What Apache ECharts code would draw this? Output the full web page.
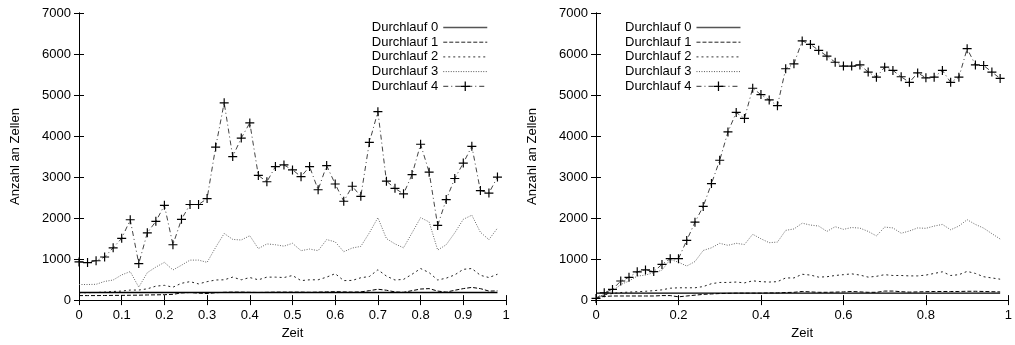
<!DOCTYPE html>
<html>
<head>
<meta charset="utf-8">
<script src="https://cdn.jsdelivr.net/npm/echarts@6/dist/echarts.min.js"></script>
<style>
html,body{margin:0;padding:0;background:#fff;}
#c{width:1015px;height:345px;}
</style>
</head>
<body>
<div id="c"></div>
<script>
const times = [0,0.02,0.04,0.06,0.08,0.1,0.12,0.14,0.16,0.18,0.2,0.22,0.24,0.26,0.28,0.3,0.32,0.34,0.36,0.38,0.4,0.42,0.44,0.46,0.48,0.5,0.52,0.54,0.56,0.58,0.6,0.62,0.64,0.66,0.68,0.7,0.72,0.74,0.76,0.78,0.8,0.82,0.84,0.86,0.88,0.9,0.92,0.94,0.96,0.98];
const seriesNames = ['Durchlauf 0','Durchlauf 1','Durchlauf 2','Durchlauf 3','Durchlauf 4'];
const yTicks = [0,1000,2000,3000,4000,5000,6000,7000];
const leftXTicks = [0,0.1,0.2,0.3,0.4,0.5,0.6,0.7,0.8,0.9,1];
const rightXTicks = [0,0.2,0.4,0.6,0.8,1];

// Left panel
const L0 = [185,185,185,185,185,185,185,185,185,185,185,185,185,185,185,185,185,185,185,185,185,185,185,185,185,185,185,185,185,185,185,185,185,185,185,185,185,185,185,185,185,185,185,185,185,185,185,185,185,185];
const L1 = [110,110,110,112,115,115,118,120,125,128,132,140,175,185,170,160,180,190,195,195,190,185,190,195,195,195,195,190,195,200,205,200,195,200,230,265,240,200,190,230,270,280,220,195,240,280,310,280,220,225];
const L2 = [180,180,185,195,210,220,245,245,275,340,360,315,410,450,395,450,490,495,560,495,550,495,560,560,550,600,475,495,495,560,645,475,480,545,575,740,585,490,505,630,770,670,490,535,615,750,770,605,550,630];
const L3 = [380,380,385,455,490,615,695,315,670,805,920,735,850,975,975,920,1285,1625,1480,1465,1570,1255,1370,1350,1315,1385,1205,1245,1205,1475,1420,1180,1270,1310,1640,2010,1500,1370,1275,1640,2010,1905,1220,1350,1640,1970,2070,1655,1475,1755];
const L4 = [930,914,960,1050,1275,1505,1960,890,1640,1920,2310,1350,1970,2330,2330,2475,3730,4810,3500,3950,4320,3040,2885,3255,3295,3175,3010,3255,2690,3280,2830,2410,2775,2530,3845,4595,2900,2725,2590,3060,3800,3120,1820,2450,2965,3340,3750,2670,2610,3000];

// Right panel
const R0 = [170,170,170,170,170,170,170,170,170,170,170,170,170,170,170,170,170,170,170,170,170,170,170,170,170,170,170,170,170,170,170,170,170,170,170,170,170,170,170,170,170,170,170,170,170,170,170,170,170,170];
const R1 = [60,90,100,100,100,100,100,100,110,110,80,100,120,140,150,160,165,170,170,170,170,175,175,185,190,210,200,190,190,195,200,210,200,190,190,220,220,205,195,200,205,210,210,210,210,215,215,210,205,200];
const R2 = [50,130,160,185,195,205,215,230,250,290,300,300,300,330,400,430,430,440,420,470,450,440,450,540,540,630,610,560,570,600,620,640,610,560,580,620,600,600,590,590,610,650,690,600,620,700,650,570,540,510];
const R3 = [30,120,220,380,465,585,610,670,730,990,925,830,940,1210,1275,1385,1335,1385,1355,1605,1495,1400,1415,1700,1735,1875,1830,1805,1675,1790,1725,1770,1755,1675,1565,1780,1760,1630,1685,1760,1750,1805,1845,1715,1805,1960,1845,1755,1620,1490];
const R4 = [40,180,260,465,555,690,735,695,870,1010,1010,1455,1900,2285,2840,3410,4100,4575,4430,5165,5010,4880,4740,5640,5760,6320,6235,6090,5950,5800,5705,5705,5735,5560,5435,5680,5600,5445,5310,5540,5420,5435,5600,5310,5435,6130,5735,5720,5560,5405];

const FONT = 'Liberation Sans, Arial, Helvetica, sans-serif';
const plus = 'path://M-0.13,-1H0.13V-0.13H1V0.13H0.13V1H-0.13V0.13H-1V-0.13H-0.13Z';

const styles = [
  {color:'#000', width:1.3, type:'solid'},
  {color:'#000', width:1, type:[4,2]},
  {color:'#222', width:1, type:[2,3]},
  {color:'#666', width:1, type:[1,1.5]},
  {color:'#444', width:1, type:[5,3,1,3]}
];
const legendLineColors = ['#555','#222','#333','#555','#333'];

function pairs(vals){ return times.map((t,i)=>[t, vals[i]]); }

function mkSeries(vals, idx, grid){
  const s = {
    name: seriesNames[idx],
    type: 'line',
    xAxisIndex: grid*2,
    yAxisIndex: grid*2,
    data: pairs(vals),
    lineStyle: styles[idx],
    itemStyle: {color: styles[idx].color},
    symbol: 'none',
    silent: true,
    z: 10 - idx
  };
  if (idx === 4) {
    s.symbol = plus;
    s.symbolSize = 9;
    s.showAllSymbol = true;
    s.itemStyle = {color:'#000'};
    s.z = 12;
  }
  return s;
}

const fmtNum = v => String(+(+v).toFixed(2));

function xAxes(grid, ticks){
  const iv = +(ticks[1]-ticks[0]).toFixed(2);
  const base = {
    type:'value', gridIndex:grid, min:ticks[0], max:ticks[ticks.length-1], interval:iv,
    axisLine:{show:true, lineStyle:{color:'#000', width:1}},
    axisTick:{show:true, inside:true, length:5, lineStyle:{color:'#000'}},
    splitLine:{show:false}
  };
  return [
    Object.assign({}, base, {position:'bottom', name:'Zeit', nameLocation:'middle', nameGap:24,
      nameTextStyle:{fontFamily:FONT, fontSize:13, color:'#000'},
      axisLabel:{fontFamily:FONT, fontSize:13, color:'#000', margin:9, formatter:fmtNum}}),
    Object.assign({}, base, {position:'top', axisLabel:{show:false}})
  ];
}
function yAxes(grid){
  const base = {
    type:'value', gridIndex:grid, min:yTicks[0], max:yTicks[yTicks.length-1], interval:yTicks[1]-yTicks[0],
    axisLine:{show:true, lineStyle:{color:'#000', width:1}},
    axisTick:{show:true, inside:true, length:5, lineStyle:{color:'#000'}},
    splitLine:{show:false}
  };
  return [
    Object.assign({}, base, {position:'left', name:'Anzahl an Zellen', nameLocation:'middle', nameGap:57,
      nameTextStyle:{fontFamily:FONT, fontSize:13, color:'#000'},
      axisLabel:{fontFamily:FONT, fontSize:13, color:'#000', margin:8, formatter:v=>String(v)}}),
    Object.assign({}, base, {position:'right', axisLabel:{show:false}})
  ];
}

const legendData = seriesNames.map((n,i)=> {
  const d = {name:n, lineStyle:{width: i===0 ? 1.5 : 1, color: legendLineColors[i]}};
  if (i < 4) d.itemStyle = {opacity:0};
  return d;
});

const legendBase = {
  orient:'vertical', align:'right', itemWidth:44, itemHeight:12, itemGap:1.7, padding:0,
  selectedMode:false,
  textStyle:{fontFamily:FONT, fontSize:13, lineHeight:12, color:'#000'},
  data: legendData
};

const option = {
  animation:false,
  backgroundColor:'#fff',
  grid:[
    {left:79, top:13, width:427, height:296, show:false},
    {left:596, top:13, width:428, height:296, show:false}
  ],
  xAxis: xAxes(0, leftXTicks).concat(xAxes(1, rightXTicks)),
  yAxis: yAxes(0).concat(yAxes(1)),
  legend:[
    Object.assign({}, legendBase, {right:527, top:21}),
    Object.assign({}, legendBase, {left:625, top:21})
  ],
  series: [L0,L1,L2,L3,L4].map((v,i)=>mkSeries(v,i,0)).concat([R0,R1,R2,R3,R4].map((v,i)=>mkSeries(v,i,1)))
};

const chart = echarts.init(document.getElementById('c'), null, {renderer:'canvas'});
chart.setOption(option);
</script>
</body>
</html>
